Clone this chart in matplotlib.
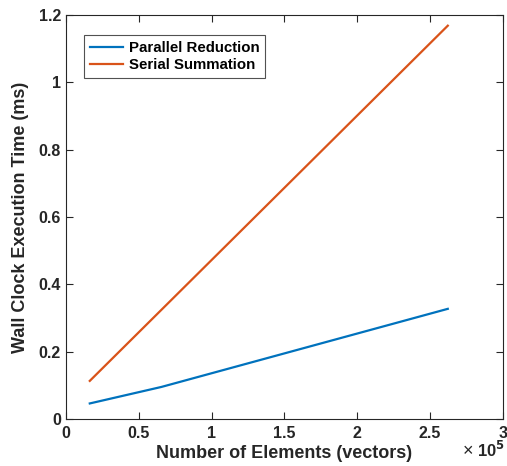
import matplotlib.pyplot as plt

plt.rcParams['font.family'] = ['Liberation Sans', 'DejaVu Sans']
plt.rcParams['font.weight'] = 'bold'

# Daten
n_elemente = [16384, 65536, 262144]
parallel = [0.046, 0.095, 0.327]
seriell = [0.113, 0.324, 1.168]

blau = (0, 0.447, 0.741)
orange = (0.85, 0.325, 0.098)
grau = (0.15, 0.15, 0.15)

fig = plt.figure(figsize=(5.07, 4.66), dpi=100)
ax = fig.add_axes([0.130, 0.101, 0.862, 0.867])

ax.plot(n_elemente, parallel, color=blau, lw=1.6, label='Parallel Reduction')
ax.plot(n_elemente, seriell, color=orange, lw=1.6, label='Serial Summation')

ax.set_xlim(0, 3e5)
ax.set_ylim(0, 1.2)
ax.set_xticks([0, 0.5e5, 1e5, 1.5e5, 2e5, 2.5e5, 3e5])
ax.set_xticklabels(['0', '0.5', '1', '1.5', '2', '2.5', '3'])
ax.set_yticks([0, 0.2, 0.4, 0.6, 0.8, 1.0, 1.2])
ax.set_yticklabels(['0', '0.2', '0.4', '0.6', '0.8', '1', '1.2'])

ax.tick_params(direction='in', top=True, right=True, length=5, width=0.8,
               colors=grau, labelsize=11.5)
ax.tick_params(axis='x', pad=5)
for s in ax.spines.values():
    s.set_color(grau)
    s.set_linewidth(0.8)

ax.set_xlabel('Number of Elements (vectors)', fontsize=13, fontweight='bold',
              color=grau, labelpad=3)
ax.set_ylabel('Wall Clock Execution Time (ms)', fontsize=13, fontweight='bold',
              color=grau, labelpad=7)

# Exponent unten rechts
fig.text(0.912, 0.012, '\u00d7', ha='left', va='bottom',
         fontsize=13, color=grau, fontweight='normal')
fig.text(0.995, 0.012, r'10$^\mathbf{5}$', ha='right', va='bottom',
         fontsize=12, color=grau)

leg = ax.legend(loc='upper left', bbox_to_anchor=(0.025, 0.968), fontsize=10.8,
                frameon=True, fancybox=False, handlelength=2.2,
                borderpad=0.4, labelspacing=0.2, handletextpad=0.35)
leg.get_frame().set_edgecolor(grau)
leg.get_frame().set_linewidth(0.8)
for t in leg.get_texts():
    t.set_fontweight('bold')

plt.savefig('out.png', dpi=100)
